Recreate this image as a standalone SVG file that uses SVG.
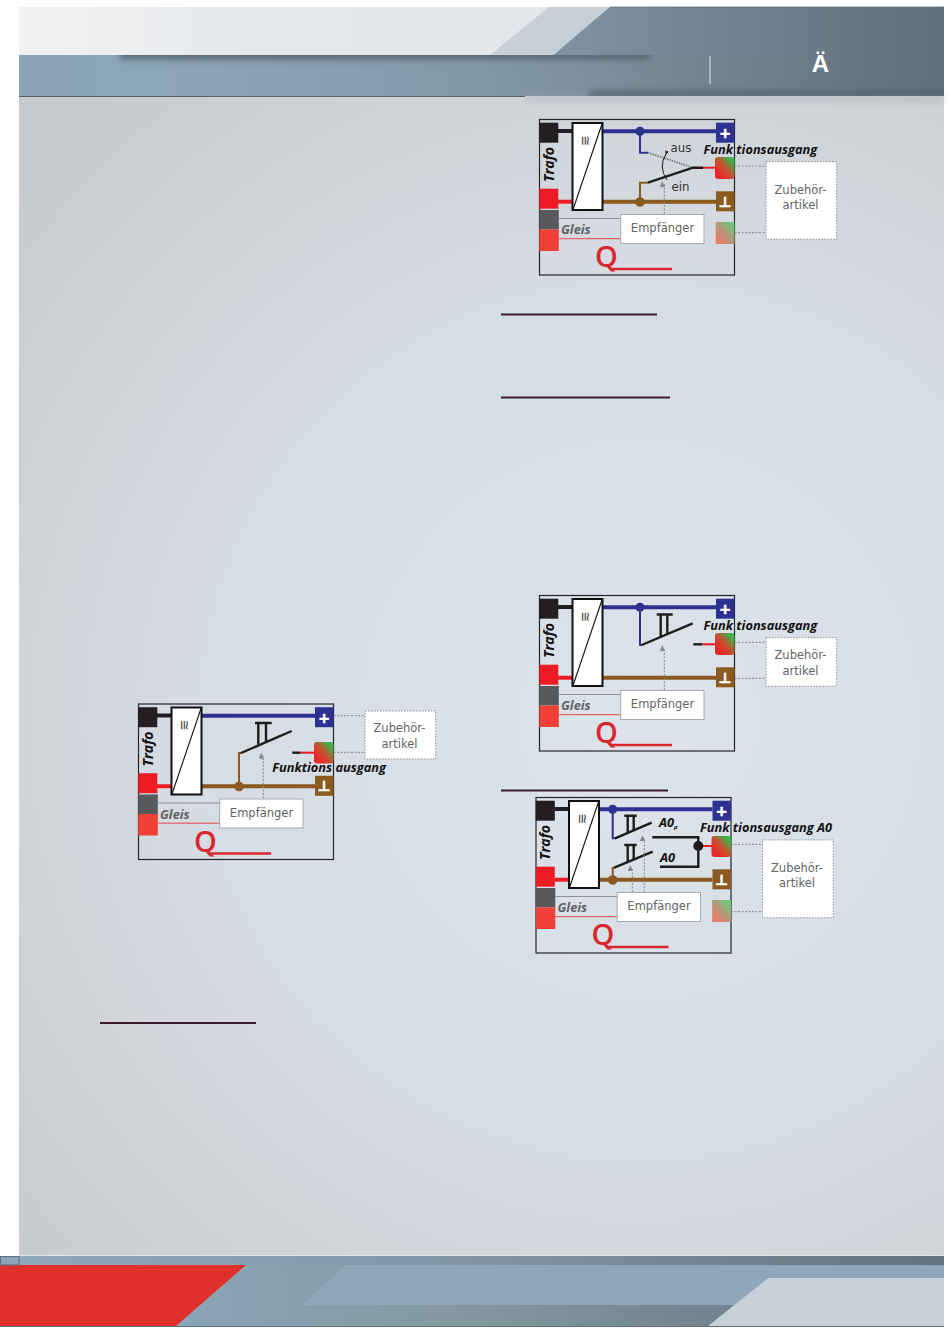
<svg xmlns="http://www.w3.org/2000/svg" width="950" height="1332" viewBox="0 0 950 1332">
<style>
text{font-family:"DejaVu Sans","Liberation Sans",sans-serif}
.fr{fill:none;stroke:#22262a;stroke-width:1.2}
.blk{fill:#231f20}.redt{fill:#ed1c24}.gry{fill:#58595b}.red2{fill:#ef4136}
.tf{fill:#fff;stroke:#111;stroke-width:2}
.dg{fill:none;stroke:#111;stroke-width:1.1}
.w{fill:none;stroke-width:4}
.wk{stroke:#231f20}.wr{stroke:#ed1c24}.wb{stroke:#2e3192}.wn{stroke:#8b5a1e}
.s{fill:none;stroke-width:2;stroke-linejoin:miter}
.sk{fill:none;stroke:#1d1d1b;stroke-width:2.4}
.sr{fill:none;stroke:#ed1c24;stroke-width:2}
.plus{fill:#2e3192}.gnd{fill:#8b5a1e}
.sym{fill:#fff;stroke:#fff;stroke-width:.7;font-weight:700;text-anchor:middle;font-size:14px}
.it{font-family:"Open Sans","Liberation Sans",sans-serif;font-weight:700;font-style:italic;font-size:12.8px;fill:#111}
.tr{font-family:"Open Sans","Liberation Sans",sans-serif;font-weight:700;font-style:italic;font-size:14px;fill:#111}
.gl{font-family:"Open Sans","Liberation Sans",sans-serif;font-weight:700;font-style:italic;font-size:12.8px;fill:#616265}
.lbl{font-size:11.5px;fill:#636466;text-anchor:middle}
.sm{font-size:11.8px;fill:#333}
.eq{font-size:13px;fill:#333;text-anchor:middle}
.box{fill:#fff;stroke:#a7a9ac;stroke-width:1}
.zb{fill:#fff;stroke:#8a8f94;stroke-width:1;stroke-dasharray:1.5 1.5}
.dot{fill:none;stroke:#7d8388;stroke-width:1;stroke-dasharray:2 1.5}
.arr{fill:none;stroke:#80868b;stroke-width:1;stroke-dasharray:2 1.5;marker-end:url(#ah)}
.lg{fill:none;stroke:#8c9095;stroke-width:1}
.lr{fill:none;stroke:#e8484a;stroke-width:1}
.q{font-family:"Open Sans","Liberation Sans",sans-serif;font-size:29px;font-weight:600;fill:#d9272e}
.qt{fill:none;stroke:#d9272e;stroke-width:2.4}
.sec{stroke:#3d1a2e;stroke-width:2;fill:none}
</style>
<defs>
<marker id="ah" markerWidth="6" markerHeight="6" refX="3" refY="5" orient="auto-start-reverse" markerUnits="userSpaceOnUse" viewBox="0 0 6 6"><path d="M3 0L5.5 6H.5z" fill="#80868b" transform="rotate(90 3 3)"/></marker>
<marker id="ak" markerWidth="6" markerHeight="6" refX="3" refY="1" orient="auto" markerUnits="userSpaceOnUse" viewBox="0 0 6 6"><path d="M0 5L3 0L6 5z" fill="#1d1d1b" transform="rotate(90 3 1)"/></marker>
<radialGradient id="bg" gradientUnits="userSpaceOnUse" cx="640" cy="720" r="820"><stop offset="0" stop-color="#dce3ea"/><stop offset=".55" stop-color="#d6dce3"/><stop offset="1" stop-color="#c7cbce"/></radialGradient>
<linearGradient id="hl" x1="0" x2="1"><stop offset="0" stop-color="#f1f2f3"/><stop offset=".4" stop-color="#e6e9ec"/><stop offset="1" stop-color="#e4e8eb"/></linearGradient>
<linearGradient id="hd" gradientUnits="userSpaceOnUse" x1="550" x2="944" y1="0" y2="0"><stop offset="0" stop-color="#7f93a2"/><stop offset="1" stop-color="#5f6f7b"/></linearGradient>
<linearGradient id="hb" gradientUnits="userSpaceOnUse" x1="19" x2="944" y1="0" y2="0"><stop offset="0" stop-color="#8aa4b6"/><stop offset=".14" stop-color="#8ca6b9"/><stop offset=".5" stop-color="#8399a8"/><stop offset=".75" stop-color="#72848f"/><stop offset="1" stop-color="#5f6f7b"/></linearGradient>
<linearGradient id="fb" gradientUnits="userSpaceOnUse" x1="0" x2="944" y1="0" y2="0"><stop offset="0" stop-color="#8da8ba"/><stop offset=".45" stop-color="#8398a8"/><stop offset="1" stop-color="#64747f"/></linearGradient>
<linearGradient id="fd" gradientUnits="userSpaceOnUse" x1="176" x2="740" y1="0" y2="0"><stop offset="0" stop-color="#8aa5b8"/><stop offset=".5" stop-color="#84999f"/><stop offset="1" stop-color="#6f828e"/></linearGradient>
<linearGradient id="t1" x1="0" y1="1" x2="1" y2="0"><stop offset=".2" stop-color="#e8282a"/><stop offset=".5" stop-color="#c9502f"/><stop offset=".85" stop-color="#3ab54a"/></linearGradient>
<linearGradient id="t2" x1="0" y1="1" x2="1" y2="0"><stop offset=".2" stop-color="#e2806a"/><stop offset=".5" stop-color="#b9957a"/><stop offset=".85" stop-color="#6fc67a"/></linearGradient>
<filter id="b3" x="-10%" y="-200%" width="120%" height="500%"><feGaussianBlur stdDeviation="3.5"/></filter>
<clipPath id="cb"><rect x="19" y="55" width="925" height="41"/></clipPath>
</defs>

<rect width="950" height="1332" fill="#fff"/>
<rect x="19" y="7" width="925" height="1260" fill="url(#bg)"/>

<g id="header">
<rect x="19" y="7" width="540" height="48" fill="url(#hl)"/>
<polygon points="549,7 610,7 552,55 490,55" fill="#c5d0d8"/>
<polygon points="610,7 944,7 944,56 552,56" fill="url(#hd)"/>
<rect x="610" y="6.5" width="334" height="1" fill="#5b6b76" opacity=".7"/>
<rect x="19" y="55" width="925" height="41" fill="url(#hb)"/>
<g clip-path="url(#cb)"><rect x="120" y="50" width="530" height="9" fill="#55636e" filter="url(#b3)"/><rect x="590" y="92" width="360" height="8" fill="#4d5a64" filter="url(#b3)"/></g>
<rect x="526" y="96" width="418" height="5" fill="#9ea5ad" opacity=".5" filter="url(#b3)"/>
<rect x="19" y="96" width="506" height="1" fill="#56666f"/>
<rect x="709.5" y="56" width="1" height="28" fill="#e6eaed"/>
<text x="820.5" y="72" text-anchor="middle" style="font-family:'Liberation Sans',sans-serif;font-weight:700;font-size:24px;fill:#fff">Ä</text>
</g>

<g id="footer">
<rect x="19" y="1255" width="925" height="1" fill="#e4e8ec"/>
<rect x="0" y="1256" width="944" height="71" fill="url(#fb)"/>
<polygon points="176,1265 944,1265 944,1326 176,1326" fill="url(#fd)"/>
<polygon points="345,1265 944,1265 944,1278 768,1278 735,1305 302,1305" fill="#8fa6bb"/>
<polygon points="768,1278 944,1278 944,1326 708,1326" fill="#c5d0d8"/>
<polygon points="0,1265 246,1265 176,1326 0,1326" fill="#e0302b"/>
<rect x="0.5" y="1256.5" width="18.5" height="8.5" fill="#8aa5b8" stroke="#5f707c" stroke-width="1"/>
<rect x="0" y="1326" width="944" height="1" fill="#5f707c"/>
</g>

<g id="section-lines">
<path class="sec" d="M501 314.5H657M501 397.5H670M100 1023H256M501 790.5H668"/>
</g>

<!-- diagram 1 -->
<g id="diagram-top">
<g id="d1-frame"><rect class="fr" x="539.5" y="119.5" width="195" height="155.5"/></g>
<g id="d1-connectors">
<path class="w wk" d="M558 131H572"/><path class="w wr" d="M558 201.7H572"/>
<path class="w wb" d="M602 131.3H716"/><path class="w wn" d="M602 201.7H716"/>
<path class="lg" d="M559 218.5H621"/><path class="lr" d="M559 238.7H621"/>
<path class="s wb" d="M640 131V152.7H648"/><path class="s wn" d="M640 202V182.7H648"/>
<path d="M648 152.7L693 167.7" fill="none" stroke="#7d8388" stroke-width="2" stroke-dasharray="1.5 1"/>
<path class="sk" d="M648 182.7L693 167.7H703"/><path class="sr" d="M703 167.7H715"/>
<path class="dot" d="M734.5 166H766M734.5 232.7H766"/>
<path class="arr" d="M664.3 214V184"/>
<path d="M666 154Q658 167 667 180" fill="none" stroke="#1d1d1b" stroke-width="1" marker-start="url(#ak)"/>
<circle cx="640" cy="131.3" r="4.6" fill="#2e3192"/><circle cx="640" cy="202" r="4.8" fill="#8b5a1e"/>
</g>
<g id="d1-trafo"><rect class="blk" x="539.3" y="122.7" width="19" height="20"/><rect class="redt" x="539.3" y="188.7" width="19" height="20"/><text class="tr" transform="translate(553.5,182) rotate(-90)">Trafo</text></g>
<g id="d1-gleis"><rect class="gry" x="539.3" y="210" width="19.5" height="19.5"/><rect class="red2" x="539.3" y="229.5" width="19.5" height="21.5"/><text class="gl" x="561" y="234">Gleis</text></g>
<g id="d1-wandler"><rect class="tf" x="572.5" y="123" width="30" height="87"/><path class="dg" d="M573 209.5L602 124"/><text class="eq" transform="translate(581,141) rotate(90)">≅</text></g>
<g id="d1-plus"><rect class="plus" x="716" y="122.7" width="18.5" height="20"/><text class="sym" x="725.2" y="138">+</text></g>
<g id="d1-masse"><rect class="gnd" x="716" y="191.3" width="18.5" height="20"/><text class="sym" x="725.2" y="206.5">⊥</text></g>
<g id="d1-ausgang"><rect x="715" y="157" width="19.5" height="22" rx="3" fill="url(#t1)"/><text class="it" x="703.5" y="154.3">Funk tionsausgang</text></g>
<g id="d1-ausgang2"><rect x="715.7" y="222" width="18.8" height="22" fill="url(#t2)"/></g>
<g id="d1-empfaenger"><rect class="box" x="620.7" y="214.5" width="83.3" height="29"/><text class="lbl" x="662.5" y="232">Empfänger</text></g>
<g id="d1-zubehoer"><rect class="zb" x="766" y="161.7" width="70.7" height="77.6"/><text class="lbl" x="800.5" y="194">Zubehör-</text><text class="lbl" x="800.5" y="208.7">artikel</text></g>
<g id="d1-q"><text class="q" x="595" y="267">Q</text><path class="qt" d="M612 269H672"/></g>
<text class="sm" x="670.5" y="151.7">aus</text><text class="sm" x="671.5" y="190.7">ein</text>
</g>

<!-- diagram 2 -->
<g id="diagram-mid" transform="translate(0,476)">
<g id="d2-frame"><rect class="fr" x="539.5" y="119.5" width="195" height="155.5"/></g>
<g id="d2-connectors">
<path class="w wk" d="M558 131H572"/><path class="w wr" d="M558 201.7H572"/>
<path class="w wb" d="M602 131.3H716"/><path class="w wn" d="M602 201.7H716"/>
<path class="lg" d="M559 218.5H621"/><path class="lr" d="M559 238.7H621"/>
<path class="s wb" d="M640 131V169H642"/>
<path class="sk" d="M641.7 169L692.7 147.3"/><path class="sk" d="M660.7 161V139M667.3 158V139M656.7 138.5H672.7"/>
<path class="sk" d="M693.3 168.3H702.5"/><path class="sr" d="M702.5 168.3H715"/>
<path class="dot" d="M734.5 166.3H766M734.5 202.3H766"/>
<path class="arr" d="M664.3 214V172"/>
<circle cx="640" cy="131.3" r="4.6" fill="#2e3192"/>
</g>
<g id="d2-trafo"><rect class="blk" x="539.3" y="122.7" width="19" height="20"/><rect class="redt" x="539.3" y="188.7" width="19" height="20"/><text class="tr" transform="translate(553.5,182) rotate(-90)">Trafo</text></g>
<g id="d2-gleis"><rect class="gry" x="539.3" y="210" width="19.5" height="19.5"/><rect class="red2" x="539.3" y="229.5" width="19.5" height="21.5"/><text class="gl" x="561" y="234">Gleis</text></g>
<g id="d2-wandler"><rect class="tf" x="572.5" y="123" width="30" height="87"/><path class="dg" d="M573 209.5L602 124"/><text class="eq" transform="translate(581,141) rotate(90)">≅</text></g>
<g id="d2-plus"><rect class="plus" x="716" y="122.7" width="18.5" height="20"/><text class="sym" x="725.2" y="138">+</text></g>
<g id="d2-masse"><rect class="gnd" x="716" y="191.3" width="18.5" height="20"/><text class="sym" x="725.2" y="206.5">⊥</text></g>
<g id="d2-ausgang"><rect x="715" y="157" width="19.5" height="22" rx="3" fill="url(#t1)"/><text class="it" x="703.5" y="154.3">Funk tionsausgang</text></g>
<g id="d2-empfaenger"><rect class="box" x="620.7" y="214.5" width="83.3" height="29"/><text class="lbl" x="662.5" y="232">Empfänger</text></g>
<g id="d2-zubehoer"><rect class="zb" x="766" y="161.7" width="70.7" height="48.5"/><text class="lbl" x="800.5" y="183">Zubehör-</text><text class="lbl" x="800.5" y="199">artikel</text></g>
<g id="d2-q"><text class="q" x="595" y="267">Q</text><path class="qt" d="M612 269H672"/></g>
</g>

<!-- diagram 3 -->
<g id="diagram-left" transform="translate(-401,584.5)">
<g id="d3-frame"><rect class="fr" x="539.5" y="119.5" width="195" height="155.5"/></g>
<g id="d3-connectors">
<path class="w wk" d="M558 131H572"/><path class="w wr" d="M558 201.7H572"/>
<path class="w wb" d="M602 131.3H716"/><path class="w wn" d="M602 201.7H716"/>
<path class="lg" d="M559 218.5H621"/><path class="lr" d="M559 238.7H621"/>
<path class="s wn" d="M640 202V168.5H643"/>
<path class="sk" d="M642 168.5L692.7 146.5"/><path class="sk" d="M659.3 160V138.5M667 157V138.5M656 138.5H672.7"/>
<path class="sk" d="M693.3 168.2H701.7"/><path class="sr" d="M701.7 168.2H715"/>
<path class="dot" d="M734.5 131.2H766M734.5 167.8H766"/>
<path class="arr" d="M664.3 214V171"/>
<circle cx="640" cy="202" r="4.8" fill="#8b5a1e"/>
</g>
<g id="d3-trafo"><rect class="blk" x="539.3" y="122.7" width="19" height="20"/><rect class="redt" x="539.3" y="188.7" width="19" height="20"/><text class="tr" transform="translate(553.5,182) rotate(-90)">Trafo</text></g>
<g id="d3-gleis"><rect class="gry" x="539.3" y="210" width="19.5" height="19.5"/><rect class="red2" x="539.3" y="229.5" width="19.5" height="21.5"/><text class="gl" x="561" y="234">Gleis</text></g>
<g id="d3-wandler"><rect class="tf" x="572.5" y="123" width="30" height="87"/><path class="dg" d="M573 209.5L602 124"/><text class="eq" transform="translate(581,141) rotate(90)">≅</text></g>
<g id="d3-plus"><rect class="plus" x="716" y="122.7" width="18.5" height="20"/><text class="sym" x="725.2" y="138">+</text></g>
<g id="d3-masse"><rect class="gnd" x="716" y="191.3" width="18.5" height="20"/><text class="sym" x="725.2" y="206.5">⊥</text></g>
<g id="d3-ausgang"><rect x="715" y="157.5" width="19.5" height="21.5" rx="3" fill="url(#t1)"/><text class="it" x="673.3" y="187.2">Funktions ausgang</text></g>
<g id="d3-empfaenger"><rect class="box" x="620.7" y="214.5" width="83.3" height="29"/><text class="lbl" x="662.5" y="232">Empfänger</text></g>
<g id="d3-zubehoer"><rect class="zb" x="766" y="126.5" width="70.7" height="48"/><text class="lbl" x="800.5" y="147.5">Zubehör-</text><text class="lbl" x="800.5" y="163.5">artikel</text></g>
<g id="d3-q"><text class="q" x="595" y="267">Q</text><path class="qt" d="M612 269H672"/></g>
</g>

<!-- diagram 4 -->
<g id="diagram-bottom" transform="translate(-3.5,678)">
<g id="d4-frame"><rect class="fr" x="539.5" y="119.5" width="195" height="155.5"/></g>
<g id="d4-connectors">
<path class="w wk" d="M558 131H572"/><path class="w wr" d="M558 201.7H572"/>
<path class="w wb" d="M602 131.3H716"/><path class="w wn" d="M602 201.7H716"/>
<path class="lg" d="M559 218.5H621"/><path class="lr" d="M559 238.7H621"/>
<path class="s wb" d="M616.2 131V160.3H619"/><path class="s wn" d="M616.2 202V189.7H619"/>
<path class="sk" d="M618.5 160.3L655.2 144.7"/><path class="sk" d="M631.2 155V138M637.2 152.5V138M627.8 137.7H640.2"/>
<path class="sk" d="M617.8 189.7L656.2 173.7"/><path class="sk" d="M631.2 184V167M637.2 181.5V167M627.8 167H640.2"/>
<path class="sk" d="M655.8 159.3H701.8V188.7H663.5"/><path class="sr" d="M701.8 168H716"/>
<path class="dot" d="M734.5 166.3H766M734.5 233.7H766"/>
<path class="arr" d="M635.8 214V190"/><path class="arr" d="M647.8 214V160"/>
<circle cx="616.2" cy="131.3" r="4.6" fill="#2e3192"/><circle cx="616.2" cy="202" r="4.8" fill="#8b5a1e"/><circle cx="701.8" cy="168" r="5" fill="#1d1d1b"/>
</g>
<g id="d4-trafo"><rect class="blk" x="539.3" y="122.7" width="19" height="20"/><rect class="redt" x="539.3" y="188.7" width="19" height="20"/><text class="tr" transform="translate(553.5,182) rotate(-90)">Trafo</text></g>
<g id="d4-gleis"><rect class="gry" x="539.3" y="210" width="19.5" height="19.5"/><rect class="red2" x="539.3" y="229.5" width="19.5" height="21.5"/><text class="gl" x="561" y="234">Gleis</text></g>
<g id="d4-wandler"><rect class="tf" x="572.5" y="123" width="30" height="87"/><path class="dg" d="M573 209.5L602 124"/><text class="eq" transform="translate(581,141) rotate(90)">≅</text></g>
<g id="d4-plus"><rect class="plus" x="716" y="122.7" width="18.5" height="20"/><text class="sym" x="725.2" y="138">+</text></g>
<g id="d4-masse"><rect class="gnd" x="716" y="191.3" width="18.5" height="20"/><text class="sym" x="725.2" y="206.5">⊥</text></g>
<g id="d4-ausgang"><rect x="715" y="158" width="19.5" height="21" rx="3" fill="url(#t1)"/><text class="it" x="703.5" y="154.3">Funk tionsausgang A0</text></g>
<g id="d4-ausgang2"><rect x="715.7" y="222" width="18.8" height="22" fill="url(#t2)"/></g>
<g id="d4-empfaenger"><rect class="box" x="620.7" y="214.5" width="83.3" height="29"/><text class="lbl" x="662.5" y="232">Empfänger</text></g>
<g id="d4-zubehoer"><rect class="zb" x="766" y="162" width="70.7" height="77.7"/><text class="lbl" x="800.5" y="194.3">Zubehör-</text><text class="lbl" x="800.5" y="208.7">artikel</text></g>
<g id="d4-q"><text class="q" x="595" y="267">Q</text><path class="qt" d="M612 269H672"/></g>
<text class="it" x="662.5" y="148.7">A0<tspan dy="2" font-size="6">p</tspan></text><text class="it" x="663.5" y="184.3">A0</text>
</g>
</svg>
